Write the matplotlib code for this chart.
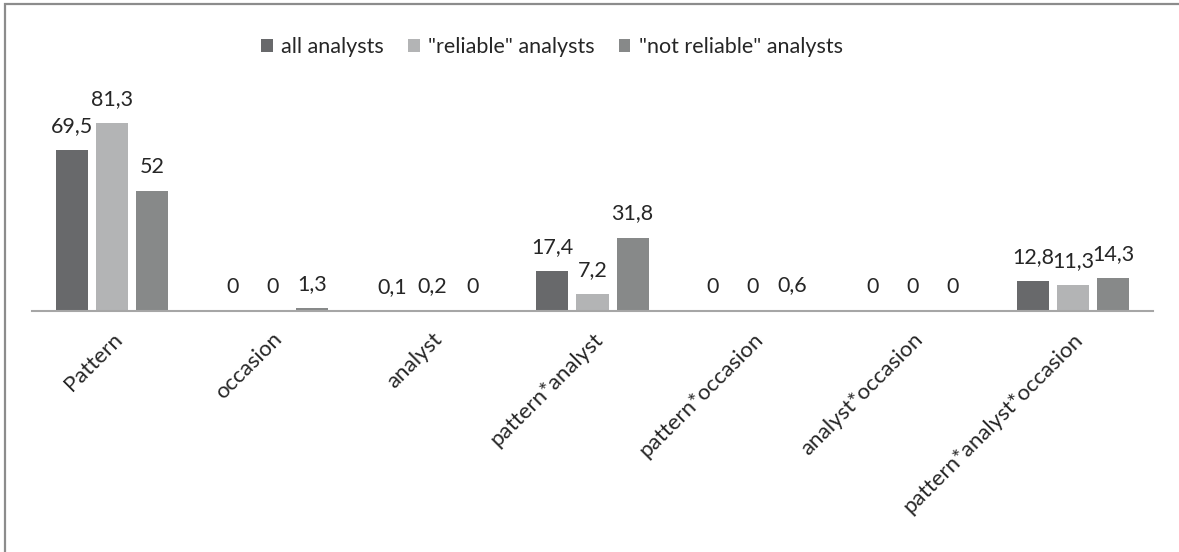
import matplotlib
matplotlib.use("Agg")
import matplotlib.pyplot as plt
import numpy as np
from matplotlib.patches import Rectangle

categories = ["Pattern", "occasion", "analyst", "pattern*analyst",
              "pattern*occasion", "analyst*occasion", "pattern*analyst*occasion"]
all_analysts = [69.5, 0, 0.1, 17.4, 0, 0, 12.8]
reliable = [81.3, 0, 0.2, 7.2, 0, 0, 11.3]
not_reliable = [52, 1.3, 0, 31.8, 0.6, 0, 14.3]
series_names = ["all analysts", "\"reliable\" analysts", "\"not reliable\" analysts"]
colors = ["#68696b", "#b3b4b5", "#878989"]

plt.rcParams['font.family'] = ['Lato', 'DejaVu Sans']

W, H = 1179, 552
fig = plt.figure(figsize=(W / 100, H / 100), dpi=100)

# outer frame
fig.patches.append(Rectangle((5 / W, -0.2), 1.5, 1.2 - 4 / H, transform=fig.transFigure,
                             fill=False, edgecolor="#8c8c8c", linewidth=1.6, zorder=0))

ax_left, ax_right = 32, 1153
ax_bottom_px = 311
ax = fig.add_axes([ax_left / W, (H - ax_bottom_px) / H, (ax_right - ax_left) / W, 231 / H])
ax.set_ylim(0, 100)
ax.set_xlim(0, len(categories))

x = np.arange(len(categories)) + 0.5
bw = 0.2
offsets = [-0.25, 0, 0.25]
for vals, off, col, name in zip([all_analysts, reliable, not_reliable], offsets, colors, series_names):
    bars = ax.bar(x + off, vals, width=bw, color=col, label=name, zorder=2)
    for b, v in zip(bars, vals):
        lab = ("%g" % v).replace(".", ",")
        ax.annotate(lab, (b.get_x() + b.get_width() / 2, v), xytext=(0, 13),
                    textcoords="offset points", ha="center", va="baseline",
                    fontsize=15.5, color="#262626")

for s in ["top", "left", "right"]:
    ax.spines[s].set_visible(False)
ax.spines["bottom"].set_color("#a6a6a6")
ax.spines["bottom"].set_linewidth(1.5)
ax.set_yticks([])
ax.set_xticks(x)
ax.set_xticklabels(categories, rotation=45, ha="right", rotation_mode="anchor",
                   fontsize=16, color="#262626")
ax.tick_params(axis="x", length=0, pad=13)
ax.patch.set_alpha(0)

fig.legend(loc="center", bbox_to_anchor=(552 / W, 1 - 47 / H), ncol=3, frameon=False,
           fontsize=15.5, handlelength=0.55, handleheight=0.55, handletextpad=0.4,
           columnspacing=1.1, labelcolor="#262626")

fig.savefig("out.png", dpi=100, facecolor="white")
